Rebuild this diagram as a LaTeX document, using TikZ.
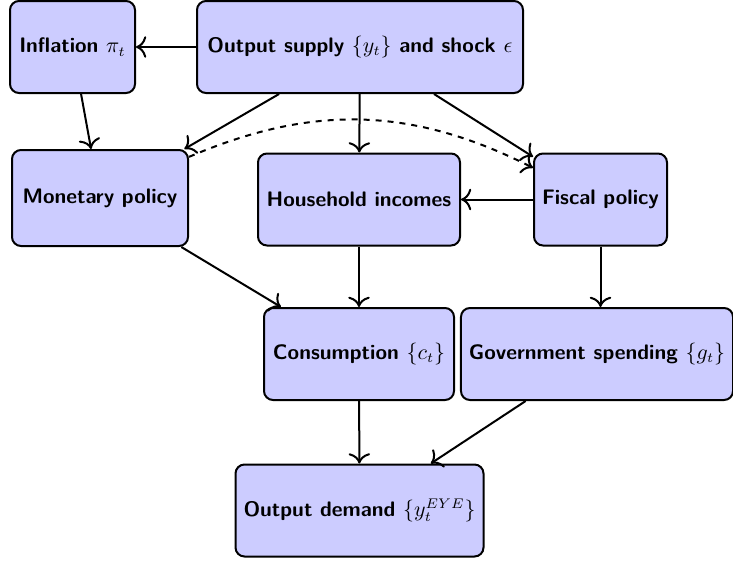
\documentclass[tikz,border=0pt]{standalone}
\usepackage{tikz}
\usetikzlibrary{arrows.meta,positioning}
\definecolor{boxblue}{RGB}{204,204,255}
\tikzset{
  block/.style={draw,line width=1pt,fill=boxblue,rounded corners=4.5pt,minimum height=46pt,inner sep=4pt,align=center},
  link/.style={-{To[scale=1.35]},line width=1pt}
}

\begin{document}
\begin{tikzpicture}[x=.5pt,y=-.5pt,font=\fontsize{10.5}{12}\selectfont\sffamily\bfseries]
      \useasboundingbox (0,0) rectangle (733,562);
      % top row
      \node[block,minimum width=62.5pt] (infl) at (72.5,47) {Inflation $\pi_t$};
      \node[block,minimum width=163pt] (supply) at (360,47) {Output supply $\{y_t\}$ and shock $\epsilon$};
      % policy row
      \node[block,minimum width=88pt,minimum height=48pt] (mon) at (100,198) {Monetary policy};
      \node[block,minimum width=101pt] (house) at (359,199.5) {Household incomes};
      \node[block,minimum width=66.5pt] (fisc) at (600.5,199.5) {Fiscal policy};
      % demand components
      \node[block,minimum width=95pt] (cons) at (359,354) {Consumption $\{c_t\}$};
      \node[block,minimum width=134.5pt] (gov) at (597,354) {Government spending $\{g_t\}$};
      \node[block,minimum width=122.5pt] (dem) at (359.5,510.5) {Output demand $\{y_t^{EYE}\}$};
      % links
      \draw[link] (supply) -- (infl);
      \draw[link] (supply) -- (mon);
      \draw[link] (supply) -- (house);
      \draw[link] (supply) -- (fisc);
      \draw[link] (infl) -- (mon);
      \draw[link,dashed] (mon) to[bend left=25] (fisc);
      \draw[link] (fisc) -- (house);
      \draw[link] (mon) -- (cons);
      \draw[link] (house) -- (cons);
      \draw[link] (fisc.south) -- (fisc.south |- gov.north);
      \draw[link] (cons) -- (dem);
      \draw[link] (gov) -- (dem);
    \end{tikzpicture}
\end{document}
